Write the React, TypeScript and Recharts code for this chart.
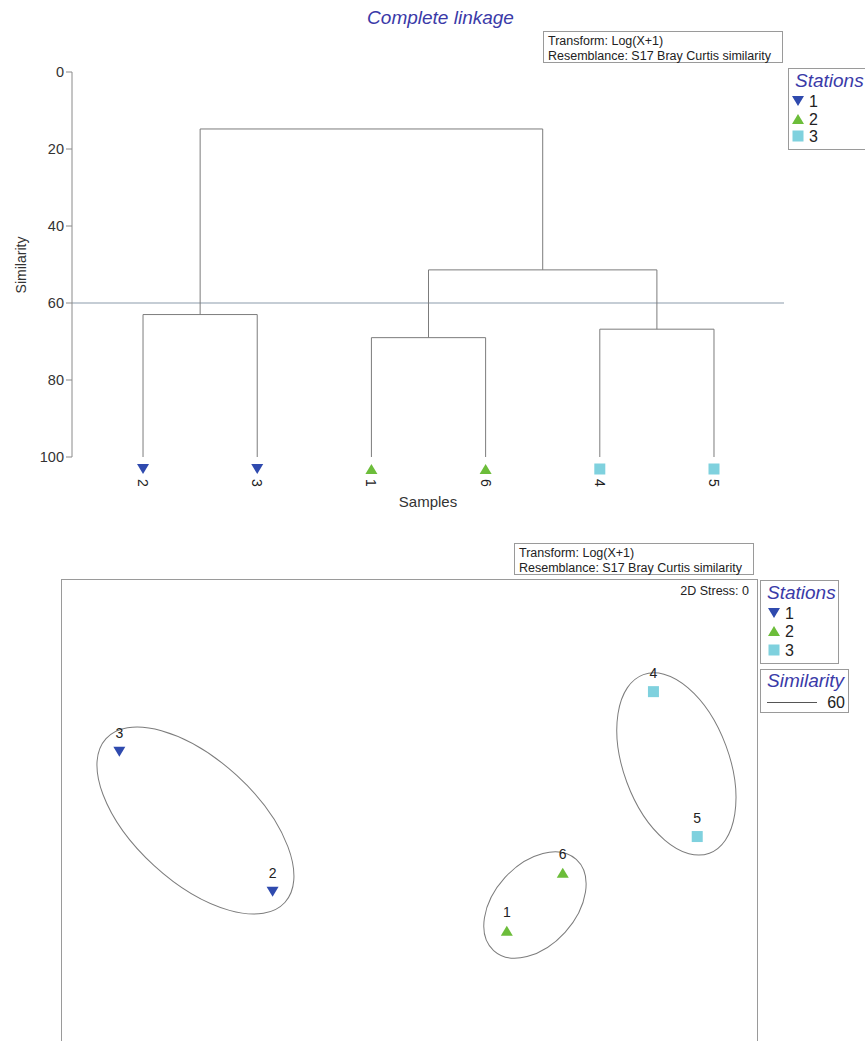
import React from "react";
import {
  ComposedChart,
  ScatterChart,
  Scatter,
  XAxis,
  YAxis,
  ReferenceLine,
} from "recharts";

const FONT = '"Liberation Sans", Arial, sans-serif';
const BLUE_TEXT = "#3a3aa8";
const LINE_GREY = "#7c7c7c";
const STATION_COLORS: Record<number, string> = {
  1: "#2f4aae",
  2: "#6cbd3a",
  3: "#7fd1de",
};

// dendrogram (complete linkage)
const LEAF_LABELS = ["2", "3", "1", "6", "4", "5"];
const LEAF_STATIONS = [1, 1, 2, 2, 3, 3];
// node ids: leaves 0..5, merges 6..10
const MERGE_LEFT = [0, 2, 4, 7, 6];
const MERGE_RIGHT = [1, 3, 5, 8, 9];
const MERGE_SIMILARITY = [63.0, 69.0, 66.8, 51.4, 14.8];
const SIM_TICKS = [0, 20, 40, 60, 80, 100];
const SLICE_LEVEL = 60;

// nMDS
const MDS_SAMPLES = ["3", "2", "1", "6", "4", "5"];
const MDS_STATIONS = [1, 1, 2, 2, 3, 3];
const MDS_X = [-0.835, -0.394, 0.28, 0.441, 0.702, 0.828];
const MDS_Y = [0.182, -0.221, -0.333, -0.166, 0.355, -0.062];
const ELLIPSE_CX = [-0.616, 0.361, 0.768];
const ELLIPSE_CY = [-0.016, -0.259, 0.147];
const ELLIPSE_RA = [0.349, 0.177, 0.274];
const ELLIPSE_RB = [0.176, 0.117, 0.152];
const ELLIPSE_ANGLE = [-42.5, 47.8, -69.7];

const MDS_W = 695;
const MDS_H = 470;
const MDS_XDOM: [number, number] = [-1, 1];
const MDS_YDOM: [number, number] = [-0.6763, 0.6763];
const PX_PER_UNIT = MDS_W / (MDS_XDOM[1] - MDS_XDOM[0]);

function Marker({ station, x, y }: { station: number; x: number; y: number }) {
  const c = STATION_COLORS[station];
  if (station === 1)
    return <polygon points={`${x - 6},${y - 5} ${x + 6},${y - 5} ${x},${y + 5}`} fill={c} />;
  if (station === 2)
    return <polygon points={`${x - 6},${y + 5} ${x + 6},${y + 5} ${x},${y - 5}`} fill={c} />;
  return <rect x={x - 5.5} y={y - 5.5} width={11} height={11} fill={c} />;
}

// build dendrogram links from merges
const nodeX = LEAF_LABELS.map((_, i) => i + 1);
const nodeY = LEAF_LABELS.map(() => 100);
MERGE_LEFT.forEach((l, k) => {
  const r = MERGE_RIGHT[k];
  nodeX.push((nodeX[l] + nodeX[r]) / 2);
  nodeY.push(MERGE_SIMILARITY[k]);
});
const links = MERGE_LEFT.map((l, k) => {
  const r = MERGE_RIGHT[k];
  const h = MERGE_SIMILARITY[k];
  return [
    { x: nodeX[l], y: nodeY[l] },
    { x: nodeX[l], y: h },
    { x: nodeX[r], y: h },
    { x: nodeX[r], y: nodeY[r] },
  ];
});
const leaves = LEAF_LABELS.map((label, i) => ({
  x: i + 1,
  y: 100,
  label,
  station: LEAF_STATIONS[i],
}));

const mdsPoints = MDS_SAMPLES.map((label, i) => ({
  x: MDS_X[i],
  y: MDS_Y[i],
  label,
  station: MDS_STATIONS[i],
}));
const ellipses = ELLIPSE_CX.map((cx, i) => ({
  x: cx,
  y: ELLIPSE_CY[i],
  ra: ELLIPSE_RA[i],
  rb: ELLIPSE_RB[i],
  angle: ELLIPSE_ANGLE[i],
}));

const abs = (left: number, top: number, extra: React.CSSProperties = {}): React.CSSProperties => ({
  position: "absolute",
  left,
  top,
  ...extra,
});

function InfoBox({ left, top }: { left: number; top: number }) {
  return (
    <div
      style={abs(left, top, {
        width: 240,
        height: 32,
        border: "1px solid #9a9a9a",
        boxSizing: "border-box",
        fontSize: 12.5,
        lineHeight: "14.5px",
        padding: "2px 0 0 4px",
        color: "#222",
        whiteSpace: "nowrap",
      })}
    >
      <div>Transform: Log(X+1)</div>
      <div>Resemblance: S17 Bray Curtis similarity</div>
    </div>
  );
}

function StationsBox({
  left,
  top,
  width,
  height,
  markerX,
  rowY,
}: {
  left: number;
  top: number;
  width: number;
  height: number;
  markerX: number;
  rowY: number[];
}) {
  return (
    <div
      style={abs(left, top, {
        width,
        height,
        border: "1px solid #9a9a9a",
        boxSizing: "border-box",
      })}
    >
      <div
        style={abs(6, 1, {
          fontSize: 19,
          fontStyle: "italic",
          color: BLUE_TEXT,
          lineHeight: "22px",
          whiteSpace: "nowrap",
        })}
      >
        Stations
      </div>
      <svg width={width} height={height} style={abs(-1, -1)}>
        {[1, 2, 3].map((s, i) => {
          const mx = markerX - left;
          const my = rowY[i] - top;
          return (
            <g key={s}>
              <Marker station={s} x={mx} y={my} />
              <text
                x={mx + 11}
                y={my}
                dominantBaseline="central"
                fontSize={16}
                fill="#222"
                fontFamily={FONT}
              >
                {s}
              </text>
            </g>
          );
        })}
      </svg>
    </div>
  );
}

export default function App() {
  return (
    <div
      style={{
        position: "absolute",
        left: 0,
        top: 0,
        width: 865,
        height: 1041,
        overflow: "hidden",
        background: "#fff",
        fontFamily: FONT,
      }}
    >
      {/* dendrogram */}
      <div style={abs(0, 0)}>
        <ComposedChart
          width={865}
          height={520}
          margin={{ top: 72, right: 81, bottom: 63, left: 0 }}
        >
          <XAxis type="number" dataKey="x" domain={[0.378, 6.613]} hide />
          <YAxis
            type="number"
            dataKey="y"
            domain={[0, 100]}
            reversed
            ticks={SIM_TICKS}
            width={72}
            tick={{ fill: "#333", fontSize: 14.5, fontFamily: FONT }}
            tickLine={{ stroke: "#8a8a8a" }}
            axisLine={{ stroke: "#8a8a8a" }}
            tickSize={6}
            tickMargin={2}
          />
          <ReferenceLine y={SLICE_LEVEL} stroke="#8b9bab" strokeWidth={1} />
          {links.map((pts, i) => (
            <Scatter
              key={i}
              data={pts}
              line={{ stroke: LINE_GREY, strokeWidth: 1 }}
              lineType="joint"
              shape={() => <g />}
              isAnimationActive={false}
            />
          ))}
          <Scatter
            data={leaves}
            isAnimationActive={false}
            shape={(p: any) => (
              <g>
                <Marker station={p.payload.station} x={p.cx} y={p.cy + 12} />
                <text
                  x={p.cx}
                  y={p.cy + 26}
                  transform={`rotate(90, ${p.cx}, ${p.cy + 26})`}
                  textAnchor="middle"
                  dominantBaseline="central"
                  fontSize={14}
                  fill="#222"
                  fontFamily={FONT}
                >
                  {p.payload.label}
                </text>
              </g>
            )}
          />
        </ComposedChart>
      </div>
      <div
        style={abs(0, 6, {
          width: 881,
          textAlign: "center",
          fontSize: 19,
          fontStyle: "italic",
          color: BLUE_TEXT,
          lineHeight: "24px",
        })}
      >
        Complete linkage
      </div>
      <div
        style={abs(21, 265, {
          transform: "translate(-50%, -50%) rotate(-90deg)",
          fontSize: 14,
          color: "#333",
          whiteSpace: "nowrap",
        })}
      >
        Similarity
      </div>
      <div
        style={abs(428, 501, {
          transform: "translate(-50%, -50%)",
          fontSize: 15,
          color: "#333",
        })}
      >
        Samples
      </div>
      <InfoBox left={543} top={31} />
      <StationsBox left={788} top={68} width={100} height={82} markerX={798} rowY={[101, 119, 136]} />

      {/* nMDS */}
      <div
        style={abs(61, 579, {
          width: MDS_W,
          height: MDS_H,
          border: "1px solid #9a9a9a",
        })}
      >
        <ScatterChart width={MDS_W} height={MDS_H} margin={{ top: 0, right: 0, bottom: 0, left: 0 }}>
          <XAxis type="number" dataKey="x" domain={MDS_XDOM} allowDataOverflow hide />
          <YAxis type="number" dataKey="y" domain={MDS_YDOM} allowDataOverflow hide />
          <Scatter
            data={ellipses}
            isAnimationActive={false}
            shape={(p: any) => (
              <ellipse
                cx={p.cx}
                cy={p.cy}
                rx={p.payload.ra * PX_PER_UNIT}
                ry={p.payload.rb * PX_PER_UNIT}
                transform={`rotate(${-p.payload.angle}, ${p.cx}, ${p.cy})`}
                fill="none"
                stroke={LINE_GREY}
                strokeWidth={1}
              />
            )}
          />
          <Scatter
            data={mdsPoints}
            isAnimationActive={false}
            shape={(p: any) => (
              <g>
                <Marker station={p.payload.station} x={p.cx} y={p.cy} />
                <text
                  x={p.cx}
                  y={p.cy - 19}
                  textAnchor="middle"
                  dominantBaseline="central"
                  fontSize={14}
                  fill="#222"
                  fontFamily={FONT}
                >
                  {p.payload.label}
                </text>
              </g>
            )}
          />
        </ScatterChart>
      </div>
      <InfoBox left={514} top={543} />
      <div
        style={abs(600, 584, {
          width: 149,
          textAlign: "right",
          fontSize: 12.5,
          lineHeight: "15px",
          color: "#222",
        })}
      >
        2D Stress: 0
      </div>
      <StationsBox left={760} top={580} width={79} height={84} markerX={774} rowY={[613, 631, 650]} />
      <div
        style={abs(760, 669, {
          width: 89,
          height: 44,
          border: "1px solid #9a9a9a",
          boxSizing: "border-box",
        })}
      >
        <div
          style={abs(6, 0, {
            fontSize: 19,
            fontStyle: "italic",
            color: BLUE_TEXT,
            lineHeight: "22px",
          })}
        >
          Similarity
        </div>
        <div style={abs(6, 32, { width: 50, borderTop: "1px solid #555" })} />
        <div
          style={abs(60, 24, {
            width: 24,
            textAlign: "right",
            fontSize: 16,
            lineHeight: "18px",
            color: "#222",
          })}
        >
          60
        </div>
      </div>
    </div>
  );
}
